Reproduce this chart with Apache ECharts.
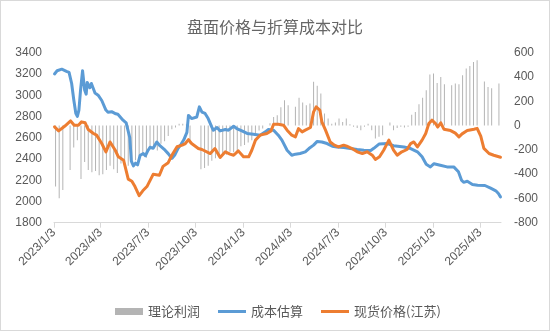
<!DOCTYPE html>
<html>
<head>
<meta charset="utf-8">
<script src="https://cdn.jsdelivr.net/npm/echarts@6/dist/echarts.min.js"></script>
<style>
  html, body { margin: 0; padding: 0; background: #fff; }
  #chart { width: 550px; height: 331px; position: relative; }
  #frame { position: absolute; left: 0; top: 0; width: 550px; height: 331px; box-sizing: border-box; border: 1px solid #d9d9d9; pointer-events: none; }
</style>
</head>
<body>
<div id="chart"></div>
<div id="frame"></div>
<script>
// Quarterly ticks shown on the date axis
const tickLabels = ['2023/1/3', '2023/4/3', '2023/7/3', '2023/10/3', '2024/1/3',
  '2024/4/3', '2024/7/3', '2024/10/3', '2025/1/3', '2025/4/3'];
const axisStart = '2023-01-03';
const axisEnd = '2025-05-13';

// 成本估算 (left axis)
const costDates = [
  '2023-01-04', '2023-01-09', '2023-01-12', '2023-01-18', '2023-01-27', '2023-02-01', '2023-02-06', '2023-02-10',
  '2023-02-14', '2023-02-17', '2023-02-20', '2023-02-23', '2023-02-27', '2023-02-28', '2023-03-03', '2023-03-06',
  '2023-03-08', '2023-03-13', '2023-03-16', '2023-03-23', '2023-03-29', '2023-04-05', '2023-04-13', '2023-04-17',
  '2023-04-24', '2023-05-02', '2023-05-06', '2023-05-16', '2023-05-22', '2023-05-29', '2023-06-01', '2023-06-05',
  '2023-06-09', '2023-06-13', '2023-06-18', '2023-06-24', '2023-06-28', '2023-07-03', '2023-07-07', '2023-07-13',
  '2023-07-20', '2023-07-26', '2023-08-05', '2023-08-11', '2023-08-18', '2023-08-24', '2023-08-30', '2023-09-05',
  '2023-09-10', '2023-09-16', '2023-09-19', '2023-09-25', '2023-10-05', '2023-10-10', '2023-10-15', '2023-10-21',
  '2023-10-27', '2023-11-03', '2023-11-06', '2023-11-13', '2023-11-19', '2023-11-29', '2023-12-05', '2023-12-15',
  '2023-12-21', '2023-12-31', '2024-01-10', '2024-01-22', '2024-02-04', '2024-02-14', '2024-02-20', '2024-03-01',
  '2024-03-10', '2024-03-17', '2024-03-27', '2024-04-05', '2024-04-12', '2024-04-21', '2024-05-01', '2024-05-08',
  '2024-05-17', '2024-05-24', '2024-06-02', '2024-06-12', '2024-06-22', '2024-07-01', '2024-07-14', '2024-07-27',
  '2024-08-09', '2024-08-22', '2024-09-04', '2024-09-10', '2024-09-20', '2024-10-06', '2024-10-18', '2024-11-07',
  '2024-11-20', '2024-12-03', '2024-12-12', '2024-12-20', '2024-12-28', '2025-01-04', '2025-01-16', '2025-01-29',
  '2025-02-11', '2025-02-20', '2025-02-26', '2025-03-02', '2025-03-09', '2025-03-19', '2025-03-29', '2025-04-12',
  '2025-04-23', '2025-05-03', '2025-05-08', '2025-05-12'
];
const costValues = [
  3200, 3230, 3245, 3245, 3225, 3215, 3110, 2960,
  2830, 2800, 2860, 3040, 3230, 3240, 3050, 3010,
  3120, 3070, 3110, 3020, 3000, 2950, 2860, 2840,
  2845, 2825, 2820, 2765, 2740, 2600, 2380, 2335,
  2360, 2345, 2435, 2450, 2430, 2480, 2510, 2500,
  2560, 2525, 2482, 2450, 2405, 2440, 2500, 2540,
  2580, 2650, 2810, 2780, 2795, 2890, 2840, 2828,
  2780, 2700, 2670, 2696, 2664, 2677, 2671, 2708,
  2686, 2664, 2640, 2633, 2624, 2655, 2677, 2671,
  2624, 2577, 2482, 2435, 2445, 2451, 2467, 2498,
  2530, 2565, 2560, 2545, 2520, 2513, 2507, 2498,
  2489, 2482, 2480, 2500, 2540, 2545, 2525, 2513,
  2498, 2467, 2420, 2350, 2325, 2355, 2341, 2325,
  2325, 2280, 2200, 2180, 2190, 2160, 2153, 2150,
  2125, 2100, 2075, 2043
];

// 现货价格(江苏) (left axis)
const spotDates = [
  '2023-01-04', '2023-01-12', '2023-01-24', '2023-02-04', '2023-02-11', '2023-02-19', '2023-02-25', '2023-03-04',
  '2023-03-10', '2023-03-20', '2023-03-26', '2023-04-05', '2023-04-13', '2023-04-21', '2023-05-01', '2023-05-07',
  '2023-05-17', '2023-05-26', '2023-06-02', '2023-06-08', '2023-06-16', '2023-06-23', '2023-07-01', '2023-07-13',
  '2023-07-25', '2023-08-01', '2023-08-11', '2023-08-18', '2023-08-28', '2023-09-07', '2023-09-13', '2023-09-19',
  '2023-09-25', '2023-10-08', '2023-10-15', '2023-10-31', '2023-11-09', '2023-11-19', '2023-11-29', '2023-12-08',
  '2023-12-15', '2023-12-24', '2024-01-03', '2024-01-13', '2024-01-19', '2024-01-26', '2024-02-04', '2024-02-17',
  '2024-02-25', '2024-03-01', '2024-03-10', '2024-03-20', '2024-03-27', '2024-04-05', '2024-04-12', '2024-04-18',
  '2024-04-25', '2024-05-01', '2024-05-11', '2024-05-17', '2024-05-22', '2024-05-29', '2024-06-02', '2024-06-09',
  '2024-06-18', '2024-06-26', '2024-07-04', '2024-07-14', '2024-07-20', '2024-07-30', '2024-08-09', '2024-08-19',
  '2024-08-28', '2024-09-07', '2024-09-13', '2024-09-21', '2024-09-29', '2024-10-09', '2024-10-18', '2024-10-25',
  '2024-11-03', '2024-11-13', '2024-11-20', '2024-11-26', '2024-12-03', '2024-12-12', '2024-12-19', '2024-12-25',
  '2024-12-31', '2025-01-07', '2025-01-11', '2025-01-17', '2025-01-23', '2025-02-05', '2025-02-14', '2025-02-21',
  '2025-02-27', '2025-03-09', '2025-03-22', '2025-03-28', '2025-04-04', '2025-04-10', '2025-04-20', '2025-04-29',
  '2025-05-12'
];
const spotValues = [
  2702, 2664, 2710, 2758, 2718, 2718, 2749, 2740,
  2677, 2640, 2624, 2545, 2467, 2560, 2482, 2420,
  2388, 2210, 2190, 2140, 2055, 2100, 2140, 2255,
  2247, 2330, 2365, 2435, 2515, 2530, 2545, 2582,
  2545, 2498, 2489, 2451, 2498, 2414, 2467, 2445,
  2435, 2476, 2420, 2420, 2482, 2577, 2624, 2640,
  2664, 2727, 2727, 2718, 2671, 2624, 2608, 2686,
  2655, 2671, 2696, 2843, 2890, 2860, 2749, 2671,
  2560, 2530, 2513, 2530, 2520, 2498, 2467, 2451,
  2467, 2435, 2395, 2420, 2482, 2577, 2482, 2435,
  2467, 2489, 2545, 2560, 2513, 2577, 2640, 2733,
  2765, 2733, 2700, 2740, 2680, 2667, 2643, 2608,
  2636, 2667, 2680, 2688, 2615, 2500, 2451, 2435,
  2416
];

// 理论利润 (right axis), weekly on Fridays from profitStart; null = no quote that week
const profitStart = '2023-01-06';
const profitValues = [
  -502, -598, -530, null, -365, -180, -120, -440, -300, -365,
  -385, -375, -410, -400, -365, -330, -360, -390, -313, -290,
  -330, -300, -285, -260, -230, -265, -195, -175, -205, -150,
  -130, -85, -30, -15, 15, 15, 10, -150, null, null,
  -360, -350, -330, -290, -270, -250, -245, -240, -215, -220,
  -210, -170, -160, -140, -120, -80, -40, -25, null, 20,
  70, 85, 150, 209, 168, null, 154, 228, 190, 168,
  182, 360, 327, 264, 100, 58, 15, 25, 58, 30,
  58, 10, -10, -20, -38, -10, 15, -38, -107, -93,
  -80, null, 25, -38, -20, -10, -15, -10, 90, 112,
  175, 230, 291, 420, 429, 350, 400, 340, null, 332,
  346, 340, 415, 470, 490, 524, 538, null, 362, 318,
  308, null, 346
];

const DAY = 86400000;
function toTime(s) {
  const p = s.split(/[-\/]/).map(Number);
  return Date.UTC(p[0], p[1] - 1, p[2]);
}
function fmt(v) {
  const d = new Date(v);
  return d.getUTCFullYear() + '/' + (d.getUTCMonth() + 1) + '/' + d.getUTCDate();
}

const tickTimes = tickLabels.map(toTime);
const costData = costDates.map((d, i) => [toTime(d), costValues[i]]);
const spotData = spotDates.map((d, i) => [toTime(d), spotValues[i]]);
const profitData = profitValues.map((v, i) => [toTime(profitStart) + i * 7 * DAY, v]);

const textColor = '#595959';
const latin = '"Liberation Sans", Arial, sans-serif';
const cjk = '"Noto Sans CJK SC", "Liberation Sans", sans-serif';
// legend swatch for the lines: a 3px stripe centred in a 28x7 box (corner dots fix the box)
const lineIcon = 'path://M0,0h0.01v0.01h-0.01z M27.99,6.99h0.01v0.01h-0.01z M0,2h28v3h-28z';

const chart = echarts.init(document.getElementById('chart'), null, { renderer: 'canvas' });
chart.setOption({
  animation: false,
  backgroundColor: '#ffffff',
  title: {
    text: '盘面价格与折算成本对比',
    left: 'center',
    top: 14,
    textStyle: { color: '#666666', fontSize: 16, fontWeight: 'normal', fontFamily: cjk }
  },
  legend: {
    left: 110,
    top: 300,
    itemWidth: 28,
    itemHeight: 7,
    itemGap: 18,
    textStyle: { color: textColor, fontSize: 13, fontFamily: cjk },
    data: [
      { name: '理论利润', icon: 'rect' },
      { name: '成本估算', icon: lineIcon },
      { name: '现货价格(江苏)', icon: lineIcon }
    ]
  },
  grid: { left: 54, right: 49, top: 52.7, bottom: 108.3, containLabel: false },
  // dates as UTC milliseconds on a linear axis, labelled at the quarterly ticks
  xAxis: {
    type: 'value',
    min: toTime(axisStart),
    max: toTime(axisEnd),
    axisLine: { show: true, onZero: false, lineStyle: { color: '#d9d9d9', width: 1 } },
    axisTick: { show: true, customValues: tickTimes, length: 5, lineStyle: { color: '#d9d9d9' } },
    axisLabel: {
      customValues: tickTimes,
      rotate: 45,
      margin: 8,
      color: textColor,
      fontSize: 12,
      fontFamily: latin,
      formatter: (v) => fmt(v)
    },
    splitLine: { show: false }
  },
  yAxis: [
    {
      type: 'value',
      min: 1800,
      max: 3400,
      interval: 200,
      axisLine: { show: false },
      axisTick: { show: false },
      splitLine: { show: false },
      axisLabel: { color: textColor, fontSize: 12, fontFamily: latin, margin: 12, formatter: (v) => String(v) }
    },
    {
      type: 'value',
      min: -800,
      max: 600,
      interval: 200,
      position: 'right',
      axisLine: { show: false },
      axisTick: { show: false },
      splitLine: { show: false },
      axisLabel: { color: textColor, fontSize: 12, fontFamily: latin, margin: 13, formatter: (v) => String(v) }
    }
  ],
  series: [
    {
      name: '理论利润',
      type: 'bar',
      yAxisIndex: 1,
      barWidth: 1,
      itemStyle: { color: '#b4b4b4' },
      data: profitData
    },
    {
      name: '成本估算',
      type: 'line',
      yAxisIndex: 0,
      symbol: 'none',
      lineStyle: { color: '#5b9bd5', width: 3, join: 'round', cap: 'round' },
      itemStyle: { color: '#5b9bd5' },
      data: costData
    },
    {
      name: '现货价格(江苏)',
      type: 'line',
      yAxisIndex: 0,
      symbol: 'none',
      lineStyle: { color: '#ed7d31', width: 3, join: 'round', cap: 'round' },
      itemStyle: { color: '#ed7d31' },
      data: spotData
    }
  ]
});
</script>
</body>
</html>
